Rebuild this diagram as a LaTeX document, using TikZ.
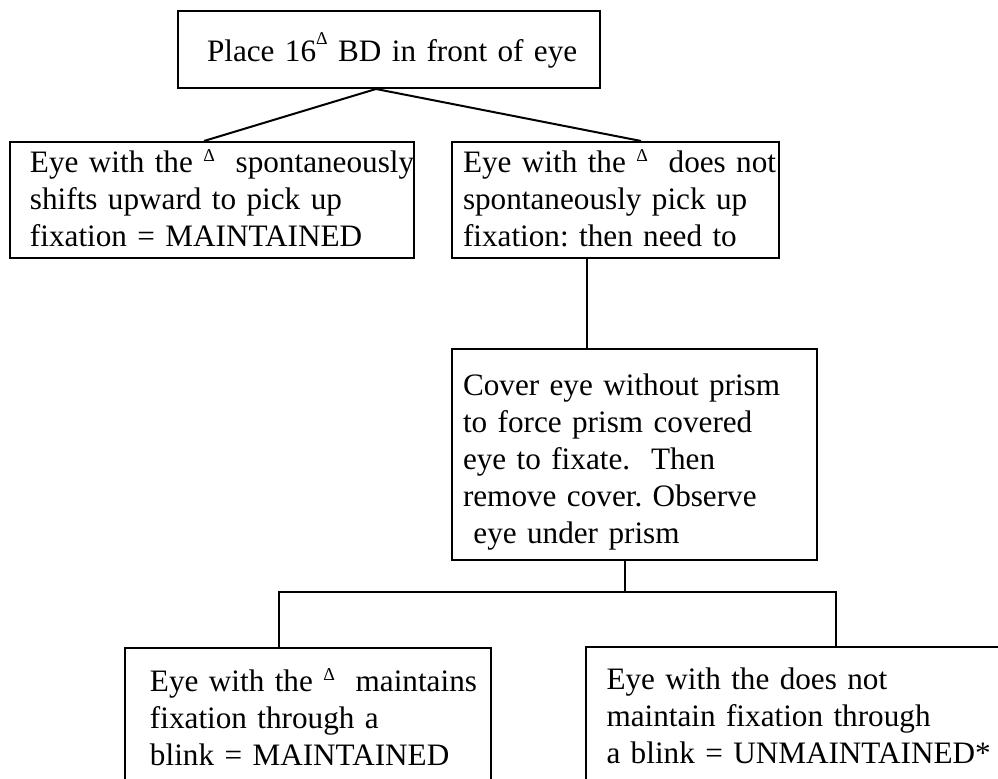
\documentclass[tikz,border=0pt]{standalone}
\usepackage{fontspec}
\setmainfont{Liberation Serif}
\newcommand{\boxfont}{\fontsize{15.6pt}{18.5pt}\selectfont\frenchspacing}
\newcommand{\prism}[1][5.5pt]{\raisebox{#1}{\fontsize{9pt}{9pt}\selectfont Δ}}
\newcommand{\tgap}[1]{\rule{0pt}{#1}}
\newcommand{\bgap}[1]{\rule[-#1]{0pt}{0pt}}

\begin{document}
\begin{tikzpicture}[x=0.5pt, y=-0.5pt,
	box/.style={draw, line width=1pt, anchor=north west, align=left, inner sep=0pt, font=\boxfont},
	lpad/.style={execute at begin node={\leftskip=#1}},
	link/.style={line width=1pt}]
	\path[use as bounding box, clip] (0,0) rectangle (998,779);
	% prisme
	\node[box, text width=211pt, lpad=14.5pt] (place) at (177,10)
		{\tgap{25.5pt}Place 16\prism[8.5pt] BD in front of eye\bgap{13pt}};
	% premier test
	\node[box, text width=202pt, lpad=10pt] (shift) at (9,141)
		{\tgap{15.5pt}\mbox{Eye with the \prism\ \ spontaneously}\\
		shifts upward to pick up\\
		fixation = MAINTAINED\bgap{5.5pt}};
	\node[box, text width=163.5pt, lpad=5.5pt] (noshift) at (451,141)
		{\tgap{15.5pt}\mbox{Eye with the \prism\ \ does not}\\
		spontaneously pick up\\
		fixation: then need to\bgap{5.5pt}};
	% cover test
	\node[box, text width=182.5pt, lpad=5.5pt] (cover) at (451,348)
		{\tgap{23.5pt}Cover eye without prism\\
		to force prism covered\\
		eye to fixate.\ \ Then\\
		remove cover. Observe\\
		\ eye under prism\bgap{8pt}};
	% blink
	\node[box, text width=183pt, lpad=12.5pt] (hold) at (124,647)
		{\tgap{22pt}\mbox{Eye with the \prism\ \ maintains}\\
		fixation through a\\
		blink = MAINTAINED\bgap{20pt}};
	\node[box, text width=250pt, lpad=10.25pt] (lose) at (585,646)
		{\tgap{21.5pt}Eye with the does not\\
		maintain fixation through\\
		a blink = UNMAINTAINED*\bgap{20pt}};
	% liens
	\draw[link] ([xshift=-6.5pt]place.south) -- ([xshift=-4pt]shift.north);
	\draw[link] ([xshift=-6.5pt]place.south) -- ([xshift=12.75pt]noshift.north);
	\draw[link] ([xshift=-14.25pt]noshift.south) -- ([xshift=-14.25pt]noshift.south |- cover.north);
	\draw[link] ([xshift=-5pt]cover.south) -- ++(0,31) coordinate (split);
	\draw[link] ([xshift=-14.5pt]hold.north) |- (split) -| (lose.north);
\end{tikzpicture}
\end{document}
